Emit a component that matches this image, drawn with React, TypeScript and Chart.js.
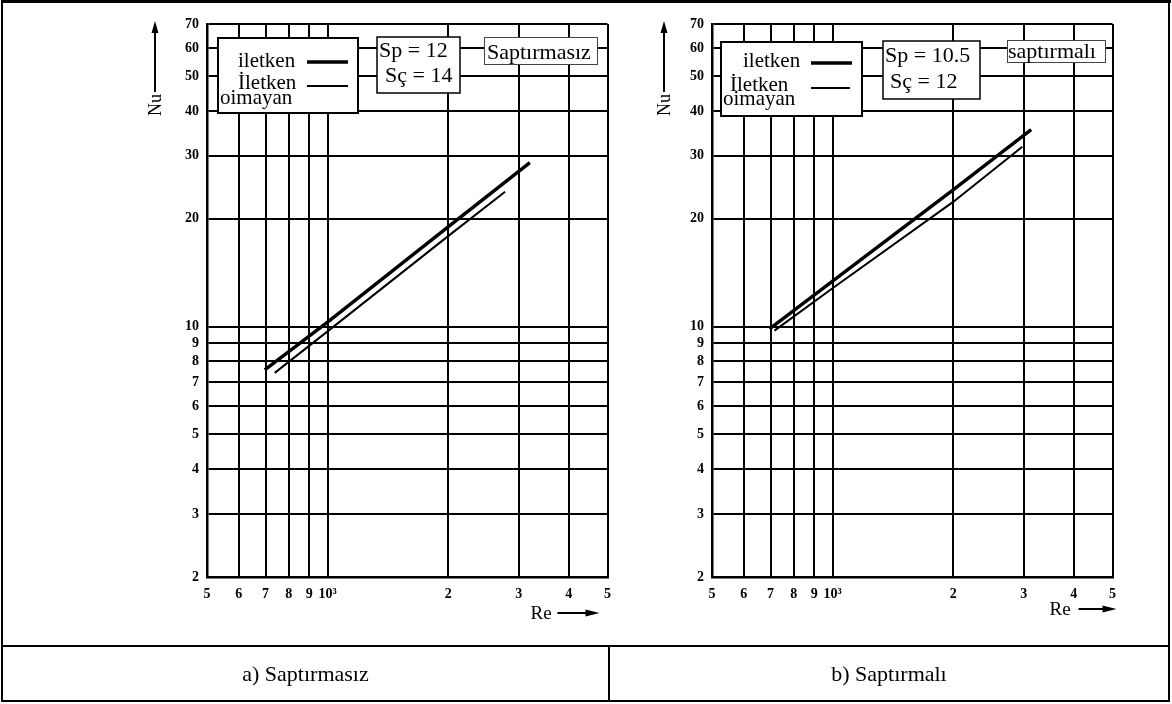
import React, { useEffect, useRef } from "react";
import { Chart, registerables } from "chart.js";

Chart.register(...registerables);

// ---- axes ----
const reTicks = [500, 600, 700, 800, 900, 1000, 2000, 3000, 4000, 5000];
const reTickLabels = ["5", "6", "7", "8", "9", "10³", "2", "3", "4", "5"];
const nuTicks = [2, 3, 4, 5, 6, 7, 8, 9, 10, 20, 30, 40, 50, 60, 70];
const nuTickLabels = ["2", "3", "4", "5", "6", "7", "8", "9", "10", "20", "30", "40", "50", "60", "70"];

// ---- a) Saptırmasız ----
const reA_iletken = [697, 1000, 2000, 3200];
const nuA_iletken = [7.57, 10.3, 19.0, 28.7];
const reA_olmayan = [738, 1000, 2000, 2775];
const nuA_olmayan = [7.43, 9.7, 17.9, 23.8];

// ---- b) Saptırmalı ----
const reB_iletken = [696, 1000, 2000, 3133];
const nuB_iletken = [9.86, 13.4, 24.1, 35.5];
const reB_olmayan = [716, 1000, 2000, 2977];
const nuB_olmayan = [9.75, 12.8, 22.3, 31.8];

// ---- texts ----
const legendTexts = ["iletken", "İletken", "oimayan"];
const paramsA = ["Sp = 12", "Sç = 14"];
const paramsB = ["Sp = 10.5", "Sç = 12"];
const tagA = "Saptırmasız";
const tagB = "saptırmalı";
const captionA = "a) Saptırmasız";
const captionB = "b) Saptırmalı";
const xAxisName = "Re";
const yAxisName = "Nu";

const SERIF = "'Liberation Serif', 'DejaVu Serif', serif";

type Layout = {
  legend: { x: number; y: number; w: number; h: number; t1: [number, number]; t2: [number, number]; t3: [number, number]; l1: [number, number, number]; l2: [number, number, number] };
  params: { x: number; y: number; w: number; h: number; p1: [number, number]; p2: [number, number] };
  tag: { x: number; y: number; w: number; h: number; t: [number, number] };
  nuDx: number;
  reDx: number;
  reArrow: [number, number];
  reY: number;
};

const layoutA: Layout = {
  legend: { x: 11, y: 14, w: 140, h: 75, t1: [31, 43], t2: [31, 65], t3: [13, 80], l1: [100, 141, 38], l2: [100, 141, 62] },
  params: { x: 170, y: 13, w: 83, h: 56, p1: [172, 33], p2: [178, 58] },
  tag: { x: 277, y: 13, w: 113, h: 27, t: [280, 35] },
  nuDx: -52,
  reDx: -77,
  reArrow: [-50, -8],
  reY: 42,
};

const layoutB: Layout = {
  legend: { x: 9, y: 18, w: 141, h: 74, t1: [31, 43], t2: [18, 67], t3: [11, 81], l1: [99, 140, 39], l2: [99, 138, 64] },
  params: { x: 171, y: 17, w: 97, h: 58, p1: [173, 38], p2: [178, 64] },
  tag: { x: 295, y: 16, w: 98, h: 22, t: [296, 34] },
  nuDx: -48,
  reDx: -63,
  reArrow: [-34, 4],
  reY: 38,
};

function overlayPlugin(lay: Layout, params: string[], tag: string) {
  return {
    id: "overlay",
    afterDraw(chart: any) {
      const ctx: CanvasRenderingContext2D = chart.ctx;
      const ca = chart.chartArea;
      const L = ca.left;
      const T = ca.top;
      ctx.save();
      ctx.fillStyle = "#000";
      ctx.strokeStyle = "#000";
      ctx.textBaseline = "alphabetic";
      ctx.textAlign = "left";

      // legend box
      const lg = lay.legend;
      ctx.fillStyle = "#fff";
      ctx.fillRect(L + lg.x, T + lg.y, lg.w, lg.h);
      ctx.lineWidth = 2;
      ctx.strokeRect(L + lg.x, T + lg.y, lg.w, lg.h);
      ctx.fillStyle = "#000";
      ctx.font = `21px ${SERIF}`;
      ctx.fillText(legendTexts[0], L + lg.t1[0], T + lg.t1[1]);
      ctx.fillText(legendTexts[1], L + lg.t2[0], T + lg.t2[1]);
      ctx.fillText(legendTexts[2], L + lg.t3[0], T + lg.t3[1]);
      ctx.lineWidth = 3.4;
      ctx.beginPath();
      ctx.moveTo(L + lg.l1[0], T + lg.l1[2]);
      ctx.lineTo(L + lg.l1[1], T + lg.l1[2]);
      ctx.stroke();
      ctx.lineWidth = 2;
      ctx.beginPath();
      ctx.moveTo(L + lg.l2[0], T + lg.l2[2]);
      ctx.lineTo(L + lg.l2[1], T + lg.l2[2]);
      ctx.stroke();

      // params box
      const pb = lay.params;
      ctx.fillStyle = "#fff";
      ctx.fillRect(L + pb.x, T + pb.y, pb.w, pb.h);
      ctx.lineWidth = 1.5;
      ctx.strokeRect(L + pb.x, T + pb.y, pb.w, pb.h);
      ctx.fillStyle = "#000";
      ctx.font = `22px ${SERIF}`;
      ctx.fillText(params[0], L + pb.p1[0], T + pb.p1[1]);
      ctx.fillText(params[1], L + pb.p2[0], T + pb.p2[1]);

      // tag box
      const tb = lay.tag;
      ctx.fillStyle = "#fff";
      ctx.fillRect(L + tb.x, T + tb.y, tb.w, tb.h);
      ctx.lineWidth = 1;
      ctx.strokeStyle = "#444";
      ctx.strokeRect(L + tb.x + 0.5, T + tb.y + 0.5, tb.w, tb.h);
      ctx.strokeStyle = "#000";
      ctx.fillStyle = "#000";
      ctx.font = `22px ${SERIF}`;
      ctx.fillText(tag, L + tb.t[0], T + tb.t[1]);

      // Nu arrow + label
      const nx = L + lay.nuDx;
      ctx.lineWidth = 2;
      ctx.beginPath();
      ctx.moveTo(nx, T + 68);
      ctx.lineTo(nx, T + 4);
      ctx.stroke();
      ctx.beginPath();
      ctx.moveTo(nx, T - 3);
      ctx.lineTo(nx - 3.5, T + 9);
      ctx.lineTo(nx + 3.5, T + 9);
      ctx.closePath();
      ctx.fill();
      ctx.save();
      ctx.translate(nx + 1, T + 81);
      ctx.rotate(-Math.PI / 2);
      ctx.font = `18px ${SERIF}`;
      ctx.textAlign = "center";
      ctx.textBaseline = "middle";
      ctx.fillText(yAxisName, 0, 0);
      ctx.restore();

      // Re label + arrow
      const R = ca.right;
      const B = ca.bottom;
      ctx.font = `19px ${SERIF}`;
      ctx.textAlign = "left";
      ctx.textBaseline = "alphabetic";
      ctx.fillText(xAxisName, R + lay.reDx, B + lay.reY);
      const ay = B + lay.reY - 6;
      ctx.lineWidth = 2;
      ctx.beginPath();
      ctx.moveTo(R + lay.reArrow[0], ay);
      ctx.lineTo(R + lay.reArrow[1] - 8, ay);
      ctx.stroke();
      ctx.beginPath();
      ctx.moveTo(R + lay.reArrow[1], ay);
      ctx.lineTo(R + lay.reArrow[1] - 14, ay - 3.5);
      ctx.lineTo(R + lay.reArrow[1] - 14, ay + 3.5);
      ctx.closePath();
      ctx.fill();
      ctx.restore();
    },
  };
}

function toPoints(xs: number[], ys: number[]) {
  return xs.map((x, i) => ({ x, y: ys[i] }));
}

function LogChart(props: {
  left: number;
  reI: number[];
  nuI: number[];
  reO: number[];
  nuO: number[];
  lay: Layout;
  params: string[];
  tag: string;
}) {
  const ref = useRef<HTMLCanvasElement | null>(null);
  useEffect(() => {
    if (!ref.current) return;
    const tickFont = { family: SERIF, size: 14, weight: "bold" as const };
    const chart = new Chart(ref.current, {
      type: "line",
      data: {
        datasets: [
          {
            label: "iletken",
            data: toPoints(props.reI, props.nuI),
            borderColor: "#000",
            borderWidth: 3.4,
            pointRadius: 0,
            fill: false,
            tension: 0,
          },
          {
            label: "İletken olmayan",
            data: toPoints(props.reO, props.nuO),
            borderColor: "#000",
            borderWidth: 2,
            pointRadius: 0,
            fill: false,
            tension: 0,
          },
        ],
      },
      options: {
        animation: false,
        responsive: false,
        maintainAspectRatio: false,
        devicePixelRatio: 1,
        layout: { padding: { left: 0, right: 10, top: 24, bottom: 23 } },
        plugins: { legend: { display: false }, tooltip: { enabled: false } },
        scales: {
          x: {
            type: "logarithmic",
            min: 500,
            max: 5000,
            afterBuildTicks: (s: any) => {
              s.ticks = reTicks.map((v) => ({ value: v }));
            },
            afterFit: (s: any) => {
              s.height = 40;
            },
            ticks: {
              autoSkip: false,
              maxRotation: 0,
              minRotation: 0,
              color: "#000",
              font: tickFont,
              padding: 9,
              callback: (_v: any, i: number) => reTickLabels[i],
            },
            grid: { color: "#000", lineWidth: 2, drawTicks: false },
            border: { color: "#000", width: 2.5 },
          },
          y: {
            type: "logarithmic",
            min: 2,
            max: 70,
            afterBuildTicks: (s: any) => {
              s.ticks = nuTicks.map((v) => ({ value: v }));
            },
            afterFit: (s: any) => {
              s.width = 67;
            },
            ticks: {
              autoSkip: false,
              color: "#000",
              font: tickFont,
              padding: 8,
              callback: (_v: any, i: number) => nuTickLabels[i],
            },
            grid: { color: "#000", lineWidth: 2, drawTicks: false },
            border: { color: "#000", width: 2.5 },
          },
        },
      } as any,
      plugins: [overlayPlugin(props.lay, props.params, props.tag)],
    });
    return () => chart.destroy();
  }, []);
  return (
    <canvas
      ref={ref}
      width={480}
      height={640}
      style={{ position: "absolute", left: props.left, top: 0, width: 480, height: 640 }}
    />
  );
}

export default function App() {
  const line = (l: number, t: number, w: number, h: number) => (
    <div style={{ position: "absolute", left: l, top: t, width: w, height: h, background: "#000" }} />
  );
  const cap: React.CSSProperties = {
    position: "absolute",
    top: 648,
    height: 52,
    display: "flex",
    alignItems: "center",
    justifyContent: "center",
    fontFamily: SERIF,
    fontSize: 22,
    color: "#000",
  };
  return (
    <div style={{ position: "absolute", left: 0, top: 0, width: 1172, height: 704, background: "#fff", overflow: "hidden" }}>
      <LogChart left={140} reI={reA_iletken} nuI={nuA_iletken} reO={reA_olmayan} nuO={nuA_olmayan} lay={layoutA} params={paramsA} tag={tagA} />
      <LogChart left={645} reI={reB_iletken} nuI={nuB_iletken} reO={reB_olmayan} nuO={nuB_olmayan} lay={layoutB} params={paramsB} tag={tagB} />
      {line(1, 0, 1170, 3)}
      {line(1, 0, 2, 702)}
      {line(1168, 0, 2, 702)}
      {line(1, 645, 1169, 2)}
      {line(1, 700, 1169, 2)}
      {line(608, 646, 2, 55)}
      <div style={{ ...cap, left: 3, width: 605 }}>{captionA}</div>
      <div style={{ ...cap, left: 610, width: 558 }}>{captionB}</div>
    </div>
  );
}
